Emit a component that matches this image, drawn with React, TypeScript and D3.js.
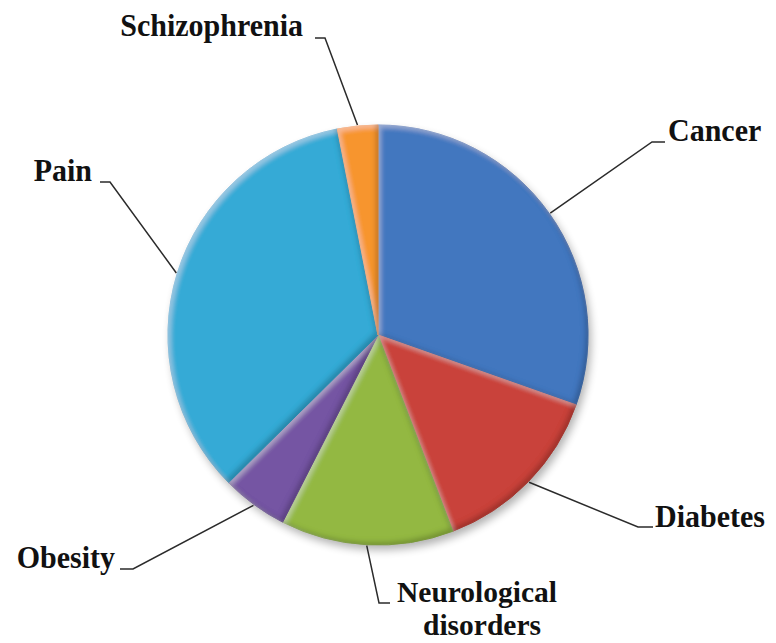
import React from "react";
import * as d3 from "d3";

const categories = ["Cancer", "Diabetes", "Neurological disorders", "Obesity", "Pain", "Schizophrenia"];
const values = [30.4, 13.8, 13.3, 5.1, 34.3, 3.1];
const colors = ["#3262A6", "#B5352D", "#84A637", "#684693", "#2896BC", "#EC8220"];
const lightColors = ["#4377BF", "#C9433A", "#93B843", "#7554A3", "#35AAD6", "#F7952E"];

// label layout: elbow point, end of horizontal segment, text anchor, text lines
const labelLayout = [
  { elbow: [652, 142], end: [665, 142], tx: 668, ty: 141, anchor: "start", lines: ["Cancer"], size: 30 },
  { elbow: [638, 527], end: [653, 527], tx: 655, ty: 527, anchor: "start", lines: ["Diabetes"], size: 30 },
  { elbow: [379, 603], end: [390, 603], tx: 397, ty: 602, anchor: "start", lines: ["Neurological", "disorders"], size: 29.5 },
  { elbow: [133, 569], end: [120, 569], tx: 115, ty: 568, anchor: "end", lines: ["Obesity"], size: 30 },
  { elbow: [110, 182], end: [100, 182], tx: 92, ty: 181, anchor: "end", lines: ["Pain"], size: 30 },
  { elbow: [325, 38], end: [315, 38], tx: 303, ty: 36, anchor: "end", lines: ["Schizophrenia"], size: 30 },
];

const W = 776;
const H = 643;
const cx = 378;
const cy = 335;
const R = 210;
const FONT = "'Liberation Serif', 'Times New Roman', serif";

export default function App() {
  const pie = d3.pie<number>().sort(null).value((d) => d).startAngle(0).endAngle(2 * Math.PI);
  const arcs = pie(values);
  const arcGen = d3.arc<d3.PieArcDatum<number>>().innerRadius(0).outerRadius(R);

  const textStyle = (size: number): React.CSSProperties => ({
    fontFamily: FONT,
    fontWeight: 700,
    fontSize: `${size}px`,
  });

  return (
    <svg width={W} height={H} style={{ position: "absolute", left: 0, top: 0, background: "#fff" }}>
      <defs>
        <filter id="shadow" x="-20%" y="-20%" width="140%" height="140%">
          <feGaussianBlur stdDeviation="4" />
        </filter>
        <filter id="bevel" x="-10%" y="-10%" width="120%" height="120%">
          <feGaussianBlur in="SourceAlpha" stdDeviation="2.5" result="blur" />
          <feOffset in="blur" dx="3" dy="3" result="offA" />
          <feComposite in="SourceAlpha" in2="offA" operator="out" result="hl" />
          <feFlood floodColor="#ffffff" floodOpacity="0.3" />
          <feComposite in2="hl" operator="in" result="hlc" />
          <feOffset in="blur" dx="-3" dy="-3" result="offB" />
          <feComposite in="SourceAlpha" in2="offB" operator="out" result="sh" />
          <feFlood floodColor="#000000" floodOpacity="0.4" />
          <feComposite in2="sh" operator="in" result="shc" />
          <feMerge>
            <feMergeNode in="SourceGraphic" />
            <feMergeNode in="hlc" />
            <feMergeNode in="shc" />
          </feMerge>
        </filter>
        {colors.map((c, i) => (
          <linearGradient
            key={i}
            id={`g${i}`}
            gradientUnits="userSpaceOnUse"
            x1={cx - R * 0.5}
            y1={cy - R}
            x2={cx + R * 0.5}
            y2={cy + R}
          >
            <stop offset="0%" stopColor={lightColors[i]} />
            <stop offset="100%" stopColor={c} />
          </linearGradient>
        ))}
      </defs>

      <circle cx={cx + 3} cy={cy + 5} r={R} fill="#000" opacity={0.3} filter="url(#shadow)" />

      <g transform={`translate(${cx},${cy})`}>
        {arcs.map((a, i) => (
          <path
            key={categories[i]}
            d={arcGen(a) || ""}
            fill={`url(#g${i})`}
            stroke={lightColors[i]}
            strokeWidth={1}
            filter="url(#bevel)"
          />
        ))}
      </g>

      {arcs.map((a, i) => {
        const mid = (a.startAngle + a.endAngle) / 2;
        const px = cx + Math.sin(mid) * (R + 1);
        const py = cy - Math.cos(mid) * (R + 1);
        const L = labelLayout[i];
        const multi = L.lines.length > 1;
        return (
          <g key={`l${i}`}>
            <polyline
              points={`${px},${py} ${L.elbow[0]},${L.elbow[1]} ${L.end[0]},${L.end[1]}`}
              fill="none"
              stroke="#2b2b2b"
              strokeWidth={1.5}
            />
            <text
              transform={`translate(${L.tx},${L.ty})${multi ? "" : " scale(1,1.05)"}`}
              textAnchor={L.anchor}
              style={textStyle(L.size)}
              fill="#111"
            >
              {L.lines[0]}
            </text>
            {multi && (
              <text
                transform={`translate(482,${L.ty + 33})`}
                textAnchor="middle"
                style={textStyle(L.size)}
                fill="#111"
              >
                {L.lines[1]}
              </text>
            )}
          </g>
        );
      })}
    </svg>
  );
}
